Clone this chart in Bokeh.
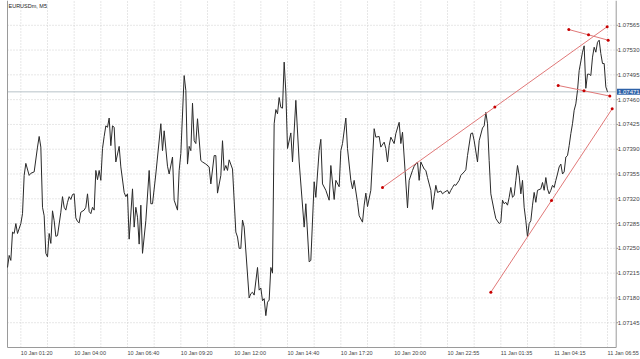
from bokeh.plotting import figure
from bokeh.models import Range1d, Label, ColumnDataSource
from bokeh.core.properties import value
from bokeh.embed import file_html
from bokeh.resources import INLINE

symbol_title = "EURUSDm, M5"

# bar index (5-minute bars) and close price
bars = [0, 1, 2, 3, 4, 5, 6, 8, 9, 10, 11, 13, 14, 16, 18, 19, 20, 21, 22, 23, 24, 25, 26, 27, 28, 29, 30,
        32, 33, 34, 35, 36, 37, 38, 39, 40, 41, 42, 43, 44, 46, 47, 48, 49, 50, 51, 52, 53, 54, 55, 56, 57,
        58, 59, 60, 61, 62, 63, 64, 65, 67, 68, 70, 71, 72, 73, 75, 76, 77, 78, 79, 80, 81, 83, 85, 86, 87,
        89, 92, 93, 94, 96, 97, 99, 100, 102, 103, 104, 106, 107, 108, 109, 110, 111, 112, 113, 114, 116,
        117, 119, 121, 122, 124, 125, 126, 128, 129, 130, 131, 132, 133, 135, 137, 138, 139, 140, 141, 142,
        145, 146, 147, 148, 150, 151, 152, 153, 154, 155, 156, 157, 158, 159, 160, 161, 162, 163, 164, 165,
        166, 167, 168, 170, 171, 173, 175, 178, 179, 181, 182, 184, 185, 187, 188, 189, 191, 193, 194, 196,
        197, 199, 200, 201, 203, 204, 206, 207, 208, 210, 211, 213, 214, 215, 216, 218, 220, 221, 223, 224,
        226, 227, 228, 229, 230, 232, 233, 235, 236, 237, 238, 240, 241, 243, 244, 246, 247, 248, 250, 251,
        252, 254, 255, 256, 257, 258, 260, 261, 262, 264, 265, 266, 267, 268, 269, 271, 272, 274, 275, 276,
        278, 279, 280, 282, 283, 285, 286, 287, 288, 289, 290, 292, 293, 295, 296, 297, 298, 299, 300, 301,
        302, 303, 304, 305, 306, 307, 308, 309, 310, 311, 312, 313, 314, 315, 316, 317, 318, 320, 321, 322,
        323, 324, 325, 326, 327, 328, 329, 330, 331, 332, 333, 334, 335, 336, 337, 338, 339, 340, 341, 342,
        343, 345, 346, 347, 348, 349, 350, 351, 352, 353, 354, 355, 356, 357, 358, 359, 360]

closes = [1.07223, 1.07240, 1.07233, 1.07273, 1.07271, 1.07285, 1.07271, 1.07285, 1.07299, 1.07353,
          1.07370, 1.07353, 1.07356, 1.07358, 1.07393, 1.07408, 1.07393, 1.07308, 1.07296, 1.07243,
          1.07238, 1.07271, 1.07257, 1.07303, 1.07289, 1.07267, 1.07268, 1.07301, 1.07323, 1.07308,
          1.07304, 1.07315, 1.07323, 1.07319, 1.07326, 1.07327, 1.07293, 1.07288, 1.07286, 1.07301,
          1.07304, 1.07308, 1.07327, 1.07302, 1.07299, 1.07308, 1.07304, 1.07360, 1.07347, 1.07360,
          1.07346, 1.07391, 1.07408, 1.07423, 1.07421, 1.07434, 1.07395, 1.07423, 1.07421, 1.07372,
          1.07394, 1.07365, 1.07329, 1.07323, 1.07327, 1.07263, 1.07334, 1.07280, 1.07308, 1.07294,
          1.07256, 1.07311, 1.07243, 1.07289, 1.07360, 1.07313, 1.07313, 1.07355, 1.07426, 1.07388,
          1.07416, 1.07366, 1.07355, 1.07379, 1.07318, 1.07304, 1.07360, 1.07384, 1.07494, 1.07473,
          1.07369, 1.07394, 1.07388, 1.07455, 1.07402, 1.07398, 1.07433, 1.07374, 1.07372, 1.07369,
          1.07365, 1.07341, 1.07381, 1.07381, 1.07328, 1.07353, 1.07402, 1.07360, 1.07367, 1.07360,
          1.07375, 1.07362, 1.07273, 1.07266, 1.07250, 1.07250, 1.07290, 1.07280, 1.07180, 1.07186,
          1.07188, 1.07184, 1.07223, 1.07191, 1.07194, 1.07176, 1.07179, 1.07155, 1.07174, 1.07177,
          1.07223, 1.07215, 1.07426, 1.07446, 1.07440, 1.07463, 1.07449, 1.07448, 1.07513, 1.07471,
          1.07391, 1.07413, 1.07372, 1.07459, 1.07372, 1.07280, 1.07313, 1.07231, 1.07233, 1.07344,
          1.07322, 1.07388, 1.07404, 1.07341, 1.07332, 1.07318, 1.07367, 1.07319, 1.07346, 1.07337,
          1.07388, 1.07398, 1.07434, 1.07391, 1.07346, 1.07334, 1.07346, 1.07315, 1.07296, 1.07287,
          1.07311, 1.07328, 1.07309, 1.07332, 1.07419, 1.07407, 1.07408, 1.07393, 1.07400, 1.07391,
          1.07372, 1.07395, 1.07407, 1.07398, 1.07412, 1.07428, 1.07398, 1.07414, 1.07379, 1.07307,
          1.07346, 1.07360, 1.07366, 1.07372, 1.07346, 1.07372, 1.07362, 1.07360, 1.07350, 1.07332,
          1.07305, 1.07323, 1.07339, 1.07329, 1.07331, 1.07327, 1.07329, 1.07332, 1.07327, 1.07332,
          1.07336, 1.07340, 1.07339, 1.07346, 1.07353, 1.07358, 1.07361, 1.07381, 1.07412, 1.07413,
          1.07402, 1.07372, 1.07402, 1.07420, 1.07423, 1.07442, 1.07426, 1.07374, 1.07327, 1.07303,
          1.07292, 1.07285, 1.07287, 1.07318, 1.07313, 1.07315, 1.07311, 1.07322, 1.07336, 1.07322,
          1.07325, 1.07346, 1.07367, 1.07353, 1.07327, 1.07346, 1.07308, 1.07289, 1.07266, 1.07285,
          1.07289, 1.07311, 1.07329, 1.07315, 1.07332, 1.07334, 1.07343, 1.07332, 1.07350, 1.07334,
          1.07327, 1.07332, 1.07339, 1.07336, 1.07346, 1.07355, 1.07365, 1.07369, 1.07355, 1.07358,
          1.07379, 1.07381, 1.07395, 1.07412, 1.07426, 1.07445, 1.07454, 1.07473, 1.07501, 1.07527,
          1.07536, 1.07476, 1.07496, 1.07496, 1.07494, 1.07520, 1.07534, 1.07527, 1.07541, 1.07544,
          1.07525, 1.07511, 1.07511, 1.07478, 1.07471]

last_price = 1.07471

# time axis labels (bar index where each label starts)
time_label_bars = [8, 40, 72, 104, 136, 168, 200, 232, 264, 296, 328, 360]
time_labels = ["10 Jan 01:20", "10 Jan 04:00", "10 Jan 06:40", "10 Jan 09:20", "10 Jan 12:00",
               "10 Jan 14:40", "10 Jan 17:20", "10 Jan 20:00", "10 Jan 22:55", "11 Jan 01:35",
               "11 Jan 04:15", "11 Jan 06:55"]

price_ticks = [1.07145, 1.07180, 1.07215, 1.07250, 1.07285, 1.07320, 1.07355, 1.07390,
               1.07425, 1.07460, 1.07495, 1.07530, 1.07565]

# trend lines drawn on the chart (bar index, price)
tl_x0 = [225.0, 290.0, 336.8, 330.4]
tl_y0 = [1.07336, 1.07188, 1.07559, 1.07480]
tl_x1 = [359.8, 362.8, 360.4, 361.4]
tl_y1 = [1.07563, 1.07447, 1.07544, 1.07465]

# ---- layout (pixel geometry of the chart window) ----
W, H = 640, 359
BAR_PX = 1.666667          # pixels per bar
LEFT_PX = 7                # pixel of bar 0
PRICE_PER_PX = 1.4121e-5   # price units per pixel
TOP_PRICE = 1.07600        # price at the top edge


def bx(px):
    return (px - LEFT_PX) / BAR_PX


def py(px):
    return TOP_PRICE - px * PRICE_PER_PX


X_L, X_R = bx(LEFT_PX), bx(615.7)     # plot area left / right
Y_B, Y_T = py(347), py(0)             # plot area bottom / top

FONT = "Liberation Sans"
AXIS_COL = "#9a9a9a"
GRID_COL = "#cfcfcf"
TXT_COL = "#444444"

p = figure(width=W, height=H, output_backend="svg", toolbar_location=None,
           x_range=Range1d(bx(0), bx(W)), y_range=Range1d(py(H), py(0)),
           x_axis_location=None, y_axis_location=None, min_border=0)
p.background_fill_color = "white"
p.border_fill_color = "white"
p.outline_line_color = None
p.grid.visible = False

# dotted grid
vgrid = list(range(time_label_bars[0], int(X_R) + 1, 16))
p.segment(x0=vgrid, x1=vgrid, y0=[Y_B] * len(vgrid), y1=[Y_T] * len(vgrid),
          line_color=GRID_COL, line_dash="1 2", line_width=1)
p.segment(x0=[X_L] * len(price_ticks), x1=[X_R] * len(price_ticks), y0=price_ticks, y1=price_ticks,
          line_color=GRID_COL, line_dash="1 2", line_width=1)

# last price line
p.segment(x0=[X_L], x1=[X_R], y0=[last_price], y1=[last_price], line_color="#b8c2c8", line_width=1)

# chart borders (left, right axis, bottom axis)
p.segment(x0=[X_L, X_R, X_L], x1=[X_L, X_R, X_R], y0=[Y_B, Y_B, Y_B], y1=[Y_T, Y_T, Y_B],
          line_color=AXIS_COL, line_width=1)

# price axis ticks and labels
tick_len = bx(LEFT_PX + 2) - bx(LEFT_PX)
p.segment(x0=[X_R] * len(price_ticks), x1=[X_R + tick_len] * len(price_ticks),
          y0=price_ticks, y1=price_ticks, line_color=AXIS_COL, line_width=1)
p.text(x=[bx(617.3)] * len(price_ticks), y=price_ticks, text=[f"{t:.5f}" for t in price_ticks],
       text_font=value(FONT), text_font_size=value("6px"), text_color=TXT_COL,
       text_align="left", text_baseline="middle")

# time axis labels
p.text(x=time_label_bars, y=[py(352)] * len(time_label_bars), text=time_labels,
       text_font=value(FONT), text_font_size=value("5.5px"), text_color=TXT_COL,
       text_align="left", text_baseline="middle")

# price series
src = ColumnDataSource(dict(x=bars, y=closes))
p.line("x", "y", source=src, line_color="#2a2a2a", line_width=1)

# trend lines
tsrc = ColumnDataSource(dict(x0=tl_x0, y0=tl_y0, x1=tl_x1, y1=tl_y1,
                             xm=[(a + b) / 2 for a, b in zip(tl_x0, tl_x1)],
                             ym=[(a + b) / 2 for a, b in zip(tl_y0, tl_y1)]))
p.segment("x0", "y0", "x1", "y1", source=tsrc, line_color="#e07878", line_width=1)
for xs, ys in (("x0", "y0"), ("x1", "y1"), ("xm", "ym")):
    p.scatter(xs, ys, source=tsrc, size=3, fill_color="#c80000", line_color=None)

# symbol / timeframe text
p.text(x=[bx(8)], y=[py(2.5)], text=[symbol_title], text_font=value(FONT),
       text_font_size=value("5.5px"), text_color="#222222", text_align="left", text_baseline="top")

# current price tag on the price axis
p.add_layout(Label(x=bx(616.5), y=last_price, text=f"{last_price:.5f}",
                   text_align="left", text_baseline="middle", text_font=FONT,
                   text_font_size="6px", text_color="white",
                   background_fill_color="#2e62a8", padding=1))

open("out.html", "w").write(file_html(p, INLINE))
